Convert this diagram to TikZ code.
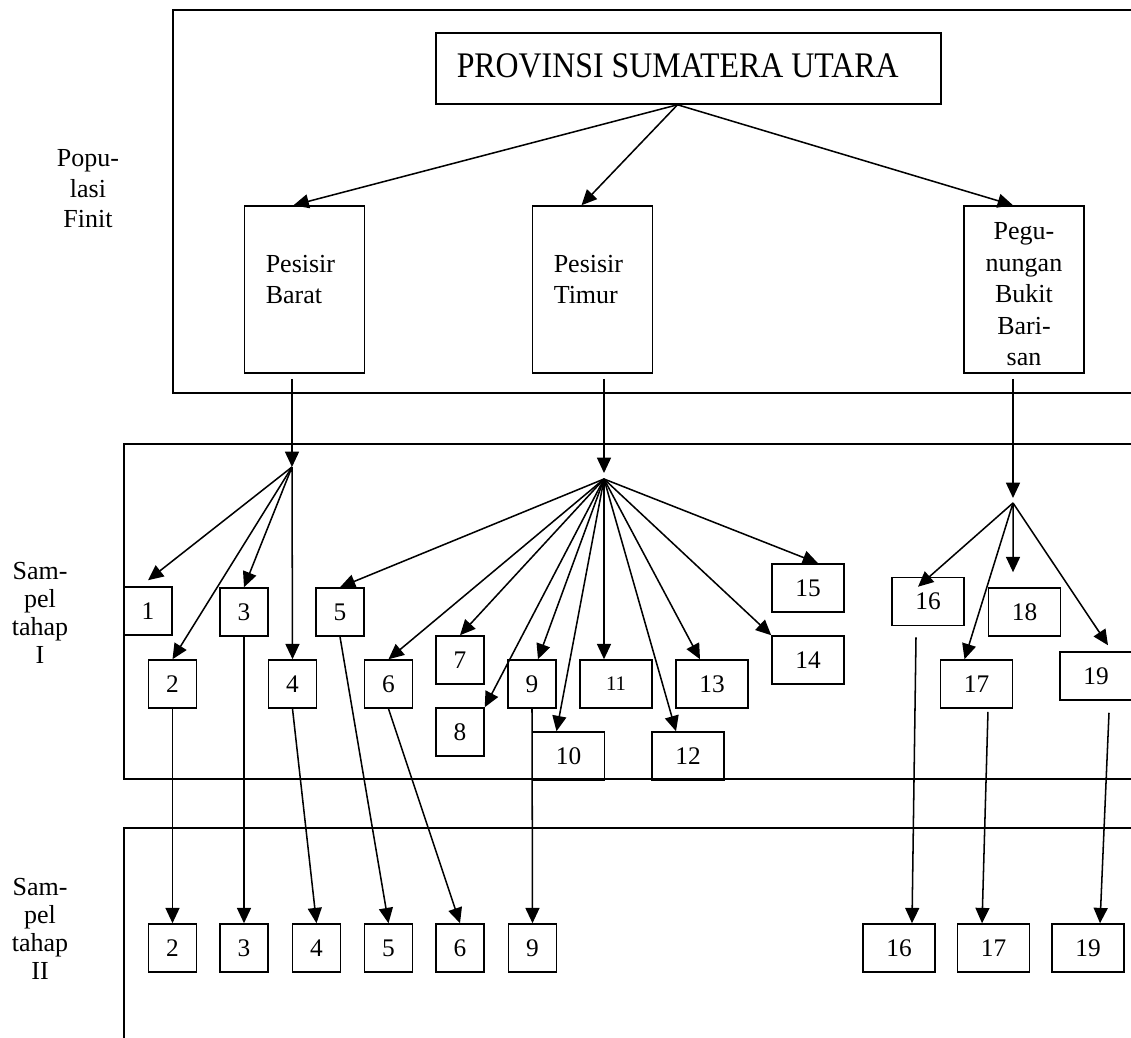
\documentclass[tikz,border=0pt]{standalone}
\usepackage{fontspec}
\usepackage{graphicx}
\setmainfont{Liberation Serif}
\usetikzlibrary{arrows.meta}
\begin{document}
\begin{tikzpicture}[x=0.75pt,y=-0.75pt,
  line width=1.15pt,
  every node/.style={font=\fontsize{19}{23}\selectfont},
  arr/.style={-{Triangle[length=11.5pt,width=10.5pt]}},
  box/.style={draw,inner sep=0pt},
  nb/.style={box,minimum width=36pt,minimum height=36pt},
  wb/.style={box,minimum width=54pt,minimum height=36pt},
  region/.style={box,minimum width=90pt,minimum height=125.25pt},
  txtl/.style={inner sep=0pt,align=left,font=\fontsize{19.5}{23.25}\selectfont},
  txtc/.style={inner sep=0pt,align=center,font=\fontsize{19.5}{23.6}\selectfont},
  lblA/.style={inner sep=0pt,align=center,font=\fontsize{19.5}{22.9}\selectfont},
  lblB/.style={inner sep=0pt,align=center,font=\fontsize{19.5}{21}\selectfont},
  small/.style={font=\fontsize{15.5}{18}\selectfont}
]
\useasboundingbox (0,0) rectangle (1131,1038);

% frames
\draw (1140,10) -| (173,393) -- (1140,393);
\draw (1140,444) -| (124,779) -- (1140,779);
\draw (1140,828) -| (124,1045);

% side labels
\node[lblA,anchor=north] (popu) at (88,149) {Popu-\\lasi\\Finit};
\node[lblB,anchor=north] (samI) at (40,562) {Sam-\\pel\\tahap\\I};
\node[lblB,anchor=north] (samII) at (40,878) {Sam-\\pel\\tahap\\II};

% top
\node[box,minimum width=378.75pt,minimum height=53.25pt] (prov) at (688.5,68.5) {};
\node[anchor=base west,inner sep=0pt,font=\fontsize{27}{32}\selectfont] (provT) at (456,78) {\scalebox{0.885}[1]{PROVINSI SUMATERA UTARA}};

\node[region] (barat) at (304.5,289.5) {};
\node[txtl,anchor=north west] (baratT) at (265,255) {Pesisir\\Barat};
\node[region] (timur) at (592.5,289.5) {};
\node[txtl,anchor=north west] (timurT) at (553,255) {Pesisir\\Timur};
\node[region] (gunung) at (1024,289.5) {};
\node[txtc,anchor=north] (gunungT) at (1024,222) {Pegu-\\nungan\\Bukit\\Bari-\\san};

\coordinate (pf) at ([xshift=-8.25pt]prov.south);
\draw[arr] (pf) -- ([xshift=-8.25pt]barat.north);
\draw[arr] (pf) -- ([xshift=-8.25pt]timur.north);
\draw[arr] (pf) -- ([xshift=-8.25pt]gunung.north);

% fan points
\coordinate (fa) at (292,467);
\coordinate (fbin) at (604,473);
\coordinate (fb) at (604,479);
\coordinate (fcin) at (1013,498);
\coordinate (fc) at (1013,503);
\draw[arr] ([xshift=-9.375pt,yshift=-3.75pt]barat.south) -- (fa);
\draw[arr] ([xshift=8.625pt,yshift=-3.75pt]timur.south) -- (fbin);
\draw[arr] ([xshift=-8.25pt,yshift=-3.75pt]gunung.south) -- (fcin);

% row I
\node[nb] (r1) at (148,611) {1};
\node[nb] (r2) at (172.5,684) {2};
\node[nb] (r3) at (244,612) {3};
\node[nb] (r4) at (292.5,684) {4};
\node[nb] (r5) at (340,612) {5};
\node[nb] (r6) at (388.5,684) {6};
\node[nb] (r7) at (460,660) {7};
\node[nb] (r8) at (460,732) {8};
\node[nb] (r9) at (532,684) {9};
\node[wb] (r10) at (568.5,756) {10};
\node[wb,small] (r11) at (616,684) {11};
\node[wb] (r12) at (688,756) {12};
\node[wb] (r13) at (712,684) {13};
\node[wb] (r14) at (808,660) {14};
\node[wb] (r15) at (808,588) {15};
\node[wb] (r16) at (928,601.5) {16};
\node[wb] (r17) at (976.5,684) {17};
\node[wb] (r18) at (1024.5,612) {18};
\node[wb] (r19) at (1096,676) {19};

% fan A
\draw[arr] (fa) -- ([yshift=4.5pt]r1.north);
\draw[arr] (fa) -- (r2.north);
\draw[arr] (fa) -- (r3.north);
\draw[arr] (fa) -- (r4.north);

% fan B
\draw[arr] (fb) -- (r5.north);
\draw[arr] (fb) -- (r6.north);
\draw[arr] (fb) -- (r7.north);
\draw[arr] (fb) -- (r8.north east);
\draw[arr] (fb) -- ([xshift=4.5pt]r9.north);
\draw[arr] (fb) -- ([xshift=-9pt]r10.north);
\draw[arr] (fb) -- ([xshift=-9pt]r11.north);
\draw[arr] (fb) -- ([xshift=-9pt]r12.north);
\draw[arr] (fb) -- ([xshift=-9pt]r13.north);
\draw[arr] (fb) -- (r14.north west);
\draw[arr] (fb) -- ([xshift=7.5pt]r15.north);

% fan C
\draw[arr] (fc) -- ([xshift=-7.5pt,yshift=-7.5pt]r16.north);
\draw[arr] (fc) -- ([xshift=-9pt]r17.north);
\draw[arr] (fc) -- ([xshift=-8.6pt,yshift=11.25pt]r18.north);
\draw[arr] (fc) -- ([xshift=9pt,yshift=4.5pt]r19.north);

% row II
\node[nb] (s2) at (172.5,948) {2};
\node[nb] (s3) at (244,948) {3};
\node[nb] (s4) at (316.5,948) {4};
\node[nb] (s5) at (388.5,948) {5};
\node[nb] (s6) at (460,948) {6};
\node[nb] (s9) at (532.5,948) {9};
\node[wb] (s16) at (899,948) {16};
\node[wb] (s17) at (993.5,948) {17};
\node[wb] (s19) at (1088,948) {19};

\draw[arr] (r2.south) -- (s2.north);
\draw[arr] (r3.south) -- (s3.north);
\draw[arr] (r4.south) -- (s4.north);
\draw[arr] (r5.south) -- (s5.north);
\draw[arr] (r6.south) -- (s6.north);
\draw[arr] (r9.south) -- (s9.north);
\draw[arr] ([xshift=-9pt,yshift=-8.25pt]r16.south) -- ([xshift=9.75pt]s16.north);
\draw[arr] ([xshift=8.6pt,yshift=-2.25pt]r17.south) -- ([xshift=-8.6pt]s17.north);
\draw[arr] ([xshift=9.75pt,yshift=-9pt]r19.south) -- ([xshift=9pt]s19.north);
\end{tikzpicture}
\end{document}
